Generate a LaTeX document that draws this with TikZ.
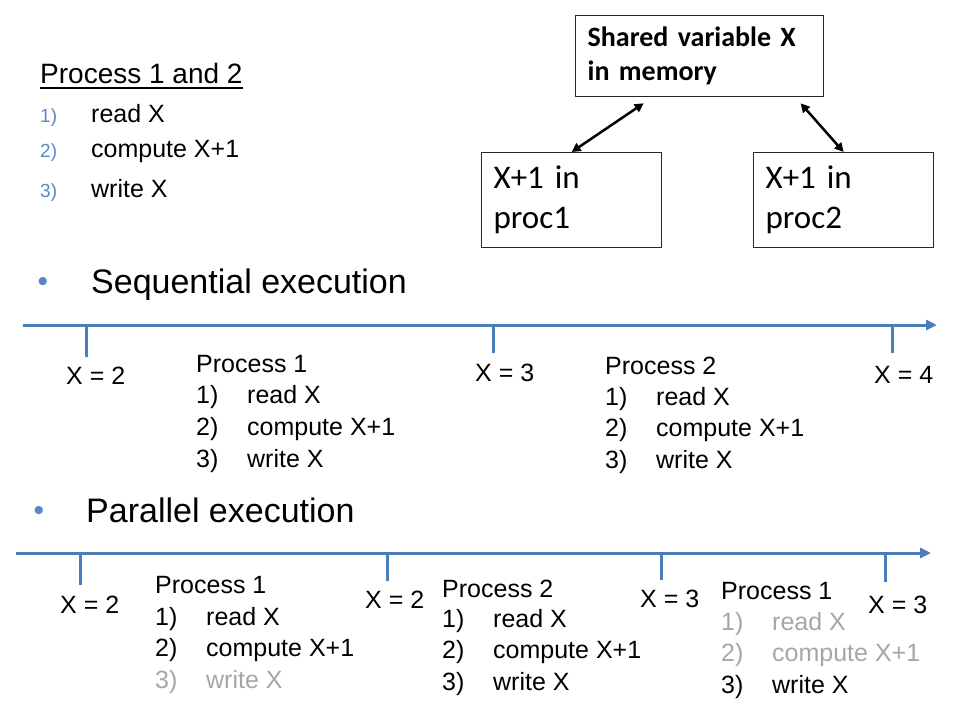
\documentclass[tikz,border=0pt]{standalone}
\usepackage{fontspec}
\setmainfont{Liberation Sans}
\newfontfamily\boxfont{Carlito}
\usetikzlibrary{arrows.meta,calc}
\definecolor{lineblue}{HTML}{4A7EBB}
\definecolor{numblue}{HTML}{5B87C6}
\definecolor{fadegrey}{HTML}{A6A6A6}
\newcommand{\nb}[1]{\makebox[51pt][l]{#1}}
\newcommand{\bn}[1]{\makebox[51pt][l]{\color{numblue}\fontsize{19}{19}\selectfont #1}}
\tikzset{
  txt/.style={anchor=base west, inner sep=0pt, font=\fontsize{25}{30}\selectfont},
  faded/.style={txt, text=fadegrey},
  head/.style={anchor=base west, inner sep=0pt, font=\fontsize{34}{40}\selectfont},
  bul/.style={text=numblue, inner sep=0pt, font=\fontsize{30}{34}\selectfont},
  timeline/.style={draw=lineblue, line width=3pt, -{Triangle[length=11pt,width=10pt,fill=lineblue]}},
  tickmark/.style={draw=lineblue, line width=3pt},
  boxbase/.style={draw=black!85, line width=1.3pt, anchor=north west, inner ysep=0pt, inner xsep=12pt, align=left},
  membox/.style={boxbase, minimum width=248pt, minimum height=81pt, text width=224pt,
     font=\boxfont\bfseries\fontsize{28}{34}\selectfont},
  procbox/.style={boxbase, minimum width=180pt, minimum height=95pt, text width=156pt,
     font=\boxfont\fontsize{33}{40}\selectfont},
  link/.style={black, line width=2.5pt, {Triangle[length=9pt,width=9pt]}-{Triangle[length=9pt,width=9pt]}}
}
\begin{document}
\begin{tikzpicture}[x=1pt,y=-1pt]
\useasboundingbox (0,0) rectangle (972,726);

% ---- top-left list
\node[anchor=base west, inner sep=0pt, font=\fontsize{28}{34}\selectfont] (title) at (40,83) {Process 1 and 2};
\draw[line width=2.5pt] ([yshift=-5pt]title.base west) -- ([yshift=-5pt]title.base east);
\node[txt] (t1) at (40,122) {\bn{1)}read X};
\node[txt] (t2) at (40,157) {\bn{2)}compute X+1};
\node[txt] (t3) at (40,197) {\bn{3)}write X};

% ---- memory boxes
\node[membox] (mem) at (575,15) {Shared variable X\\in memory};
\node[procbox] (p1) at (481,152) {X+1 in\\proc1};
\node[procbox] (p2) at (753,152) {X+1 in\\proc2};
\coordinate (m1) at ([xshift=-56pt,yshift=-6pt]mem.south);
\coordinate (m2) at ([xshift=101pt,yshift=-6pt]mem.south);
\draw[link] (p1.north) -- (m1);
\draw[link] (m2) -- (p2.north);

% ---- sequential execution
\node[bul] (b1) at (43,284) {•};
\node[head] (seq) at (91,293) {Sequential execution};
\coordinate (s0) at (23,325);
\coordinate (s1) at (937,325);
\draw[timeline] (s0) -- (s1);
\draw[tickmark] (86,324) -- (86,357);
\draw[tickmark] (493,324) -- (493,353);
\draw[tickmark] (892,324) -- (892,353);
\node[txt] (sx2) at (66,384) {X = 2};
\node[txt] (sx3) at (475,381) {X = 3};
\node[txt] (sx4) at (874,383) {X = 4};

\node[txt] (sp1) at (196,372) {Process 1};
\node[txt] (sp1a) at (196,403.5) {\nb{1)}read X};
\node[txt] (sp1b) at (196,435) {\nb{2)}compute X+1};
\node[txt] (sp1c) at (196,467) {\nb{3)}write X};

\node[txt] (sp2) at (605,374) {Process 2};
\node[txt] (sp2a) at (605,405) {\nb{1)}read X};
\node[txt] (sp2b) at (605,436) {\nb{2)}compute X+1};
\node[txt] (sp2c) at (605,468) {\nb{3)}write X};

% ---- parallel execution
\node[bul] (b2) at (39,513) {•};
\node[head] (par) at (86,522) {Parallel execution};
\coordinate (q0) at (16,553);
\coordinate (q1) at (931,553);
\draw[timeline] (q0) -- (q1);
\draw[tickmark] (80,552) -- (80,585);
\draw[tickmark] (387,552) -- (387,581);
\draw[tickmark] (661,552) -- (661,580);
\draw[tickmark] (885,552) -- (885,582);
\node[txt] (px2a) at (60,613) {X = 2};
\node[txt] (px2b) at (365,608) {X = 2};
\node[txt] (px3a) at (640,607) {X = 3};
\node[txt] (px3b) at (868,613) {X = 3};

\node[txt] (pp1) at (155,593) {Process 1};
\node[txt] (pp1a) at (155,625) {\nb{1)}read X};
\node[txt] (pp1b) at (155,656) {\nb{2)}compute X+1};
\node[faded] (pp1c) at (155,688) {\nb{3)}write X};

\node[txt] (pp2) at (442,597) {Process 2};
\node[txt] (pp2a) at (442,627) {\nb{1)}read X};
\node[txt] (pp2b) at (442,658) {\nb{2)}compute X+1};
\node[txt] (pp2c) at (442,690) {\nb{3)}write X};

\node[txt] (pp3) at (721,599) {Process 1};
\node[faded] (pp3a) at (721,630) {\nb{1)}read X};
\node[faded] (pp3b) at (721,661) {\nb{2)}compute X+1};
\node[txt] (pp3c) at (721,693) {\nb{3)}write X};
\end{tikzpicture}
\end{document}
